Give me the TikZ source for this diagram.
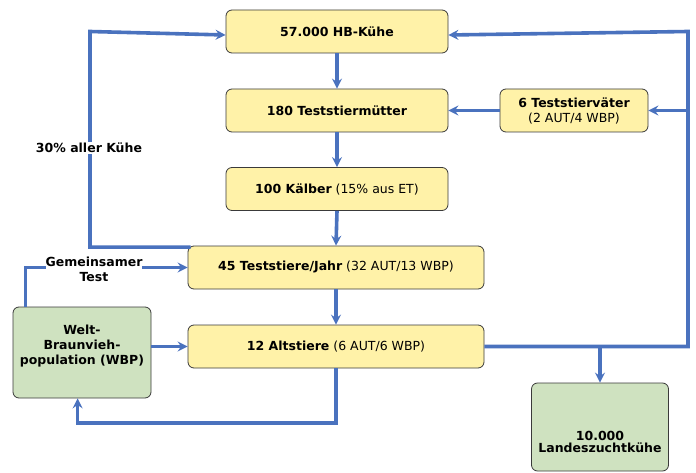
\documentclass[tikz,border=0pt]{standalone}
\usepackage{fontspec}
\setmainfont{DejaVu Sans}
\usetikzlibrary{arrows.meta,calc}
\definecolor{lineblue}{HTML}{4A72BE}
\definecolor{boxyellow}{HTML}{FFF2A8}
\definecolor{boxgreen}{HTML}{CFE2C0}
\definecolor{boxedge}{HTML}{3A3A3A}
\begin{document}
\begin{tikzpicture}[x=1pt,y=-1pt,
  box/.style={draw=boxedge,line width=0.8pt,rounded corners=6pt,align=center,font=\fontsize{12.5}{15}\selectfont,inner sep=2pt},
  ybox/.style={box,fill=boxyellow},
  gbox/.style={box,fill=boxgreen},
  txt/.style={align=center,font=\bfseries\fontsize{12.5}{15}\selectfont,inner sep=0pt},
  conn/.style={draw=lineblue,line width=3.6pt},
  arr/.style={conn,-{Stealth[length=10pt,width=10pt,inset=3.5pt]}},
  lbl/.style={font=\bfseries\fontsize{12.5}{15}\selectfont,align=center,fill=white,inner sep=1pt}]
\useasboundingbox (0,0) rectangle (696,473);
% nodes
\node[ybox,minimum width=222,minimum height=43] (k57) at (337,31.5) {\textbf{57.000 HB-Kühe}};
\node[ybox,minimum width=222,minimum height=43] (m180) at (337,110.5) {\textbf{180 Teststiermütter}};
\node[ybox,minimum width=222,minimum height=43] (k100) at (337,189) {\textbf{100 Kälber} (15\% aus ET)};
\node[ybox,minimum width=296,minimum height=43] (t45) at (336,267.5) {\textbf{45 Teststiere/Jahr} (32 AUT/13 WBP)};
\node[ybox,minimum width=296,minimum height=43] (a12) at (336,346.5) {\textbf{12 Altstiere} (6 AUT/6 WBP)};
\node[ybox,minimum width=148,minimum height=43] (v6) at (574,110.5) {\textbf{6 Teststierväter}\\(2 AUT/4 WBP)};
\node[gbox,minimum width=138,minimum height=91] (wbp) at (82,352.5) {};
\node[txt] (wbptxt) at (82,346.5) {Welt-\\Braunvieh-\\population (WBP)};
\node[gbox,minimum width=137,minimum height=88] (lzk) at (600,427) {};
\node[txt,font=\bfseries\fontsize{12.5}{12.5}\selectfont] (lzktxt) at (600,442) {10.000\\Landeszuchtkühe};
% coordinates
\coordinate (rr) at (688,0);
\coordinate (ll) at (90,0);
% vertical chain
\draw[arr] (k57.south) -- (m180.north);
\draw[arr] (m180.south) -- (k100.north);
\draw[arr] (k100.south) -- (t45.north);
\draw[arr] (t45.south) -- (a12.north);
% left loop
\draw[arr] ($(t45.north west)+(3,1.5)$) -| (ll |- k57.west) -- ($(k57.west)+(0,3.5)$);
\node[lbl] (pct) at (89,148) {30\% aller Kühe};
% right loop
\draw[arr] (a12.east) -| (rr |- k57.east) -- ($(k57.east)+(0,3.5)$);
\draw[arr] (rr |- v6.east) -- (v6.east);
\draw[arr] (v6.west) -- (m180.east);
\draw[arr] (lzk.north |- a12.east) -- (lzk.north);
% WBP
\draw[arr] (wbp.east |- a12.west) -- (a12.west);
\draw[arr] ($(wbp.north west)+(13,0)$) |- (t45.west);
\node[lbl,inner sep=0pt] (gem) at (94,269) {Gemeinsamer\\Test};
% bottom loop
\draw[arr] (a12.south) -- (a12.south |- 0,423) -| ($(wbp.south west)+(65,0)$);
\end{tikzpicture}
\end{document}
